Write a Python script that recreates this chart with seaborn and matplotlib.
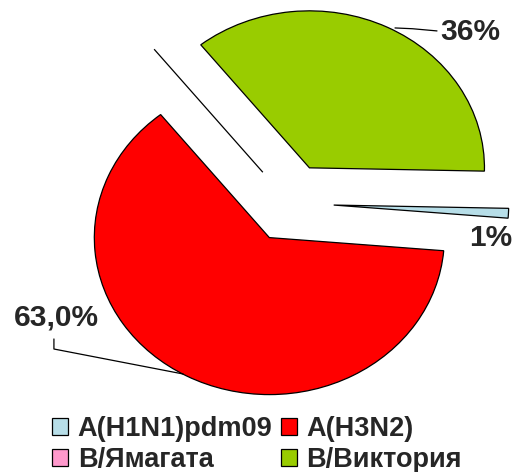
import matplotlib
matplotlib.use("Agg")
import matplotlib.pyplot as plt
import seaborn as sns

sns.set_style("white")
plt.rcParams['font.family'] = ['Liberation Sans', 'DejaVu Sans']

categories = ["A(H1N1)pdm09", "A(H3N2)", "B/Ямагата", "B/Виктория"]
values = [1, 63, 0, 36]
labels_txt = ["1%", "63,0%", "", "36%"]
colors = ["#B7DEE8", "#FF0000", "#FF99CC", "#99CC00"]

fig = plt.figure(figsize=(5.16, 4.72), dpi=100)
ax = fig.add_axes([0, 0, 1, 1])

wedges, _ = ax.pie(values, colors=colors, startangle=-1.2, counterclock=False,
                   explode=[0.25] * 4,
                   wedgeprops=dict(edgecolor="black", linewidth=0.9))

ax.set_aspect("auto")
ax.set_xlim(-290 / 175, 226 / 175)
ax.set_ylim(-269 / 157, 203 / 157)
ax.axis("off")

fs = 21.5
# 36%
ax.plot([0.60, 0.70, 0.84], [1.115, 1.11, 1.096], color="black", lw=0.9)
ax.text(1.029, 1.089, labels_txt[3], ha="center", va="center",
        fontsize=fs, fontweight="bold")
# 1%
ax.text(1.149, -0.223, labels_txt[0], ha="center", va="center",
        fontsize=fs, fontweight="bold")
# 63,0%
ax.plot([-1.349, -1.349, -0.611], [-0.866, -0.930, -1.089], color="black", lw=0.9)
ax.text(-1.337, -0.732, labels_txt[1], ha="center", va="center",
        fontsize=fs, fontweight="bold")

order = [0, 2, 1, 3]
leg = ax.legend([wedges[i] for i in order], [categories[i] for i in order],
                ncol=2, frameon=False, loc="upper left",
                bbox_to_anchor=(52 / 516, 1 - 416 / 472),
                bbox_transform=fig.transFigure,
                prop=dict(weight="bold", size=19.5),
                handlelength=0.6, handleheight=0.6, handletextpad=0.35,
                columnspacing=0.3, labelspacing=0.2, borderpad=0,
                borderaxespad=0)

fig.savefig("out.png", dpi=100)
